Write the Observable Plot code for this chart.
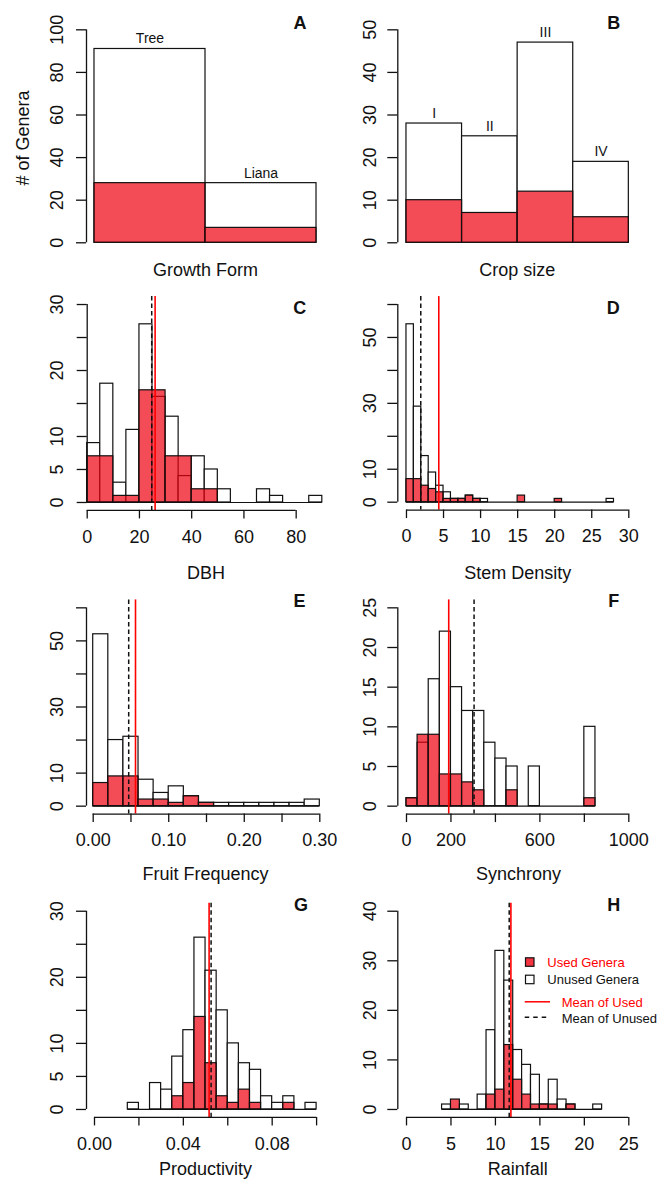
<!DOCTYPE html>
<html>
<head>
<meta charset="utf-8">
<script src="https://cdn.jsdelivr.net/npm/d3@7"></script>
<script src="https://cdn.jsdelivr.net/npm/@observablehq/plot@0.6"></script>
<style>
html, body { margin: 0; padding: 0; background: #fff; }
#root { position: relative; width: 668px; height: 1179px; overflow: hidden; }
.panel { position: absolute; width: 334px; }
.panel svg { overflow: visible; }
</style>
</head>
<body>
<div id="root"></div>
<script>
// ---------------- DATA ----------------
// A: growth form
const growthForms = ["Tree", "Liana"];
const growthAll = [91, 28];
const growthUsed = [28, 7];
const growthTicks = [0, 20, 40, 60, 80, 100];

// B: crop size
const cropSizes = ["I", "II", "III", "IV"];
const cropAll = [28, 25, 47, 19];
const cropUsed = [10, 7, 12, 6];
const cropTicks = [0, 10, 20, 30, 40, 50];

// C: DBH
const dbhEdges = [0, 5, 10, 15, 20, 25, 30, 35, 40, 45, 50, 55, 60, 65, 70, 75, 80, 85, 90];
const dbhUnused = [9, 18, 3, 11, 27, 16, 13, 4, 7, 5, 2, 0, 0, 2, 1, 0, 0, 1];
const dbhUsedEdges = [0, 10, 20, 30, 40, 50];
const dbhUsed = [7, 1, 17, 7, 2];
const dbhMeans = {unused: 24.7, used: 26.0};
const dbhXTicks = [0, 20, 40, 60, 80];
const dbhYTicks = [0, 5, 10, 15, 20, 25, 30];
const dbhYLabels = [0, 5, 10, 20, 30];

// D: stem density
const stemEdges = [0, 1, 2, 3, 4, 5, 6, 7, 8, 9, 10, 11, 12, 13, 14, 15, 16, 17, 18, 19, 20, 21, 22, 23, 24, 25, 26, 27, 28];
const stemUnused = [54, 29, 14, 9, 5, 3, 1, 1, 2, 1, 1, 0, 0, 0, 0, 0, 0, 0, 0, 0, 0, 0, 0, 0, 0, 0, 0, 1];
const stemUsed = [7, 7, 5, 4, 3, 1, 1, 1, 2, 1, 0, 0, 0, 0, 0, 2, 0, 0, 0, 0, 1, 0, 0, 0, 0, 0, 0, 0];
const stemMeans = {unused: 1.93, used: 4.36};
const stemXTicks = [0, 5, 10, 15, 20, 25, 30];
const stemYTicks = [0, 10, 20, 30, 40, 50, 60];
const stemYLabels = [0, 10, 30, 50];

// E: fruit frequency
const fruitEdges = [0, 0.02, 0.04, 0.06, 0.08, 0.10, 0.12, 0.14, 0.16, 0.18, 0.20, 0.22, 0.24, 0.26, 0.28, 0.30];
const fruitUnused = [52, 20, 21, 8, 4, 6, 3, 1, 1, 1, 1, 1, 1, 1, 2];
const fruitUsed = [7, 9, 9, 2, 2, 1, 3, 1, 0, 0, 0, 0, 0, 0, 0];
const fruitMeans = {unused: 0.047, used: 0.056};
const fruitXTicks = [0, 0.05, 0.10, 0.15, 0.20, 0.25, 0.30];
const fruitXLabels = [0, 0.10, 0.20, 0.30];
const fruitYTicks = [0, 10, 20, 30, 40, 50, 60];
const fruitYLabels = [0, 10, 30, 50];

// F: synchrony
const syncEdges = [0, 50, 100, 150, 200, 250, 300, 350, 400, 450, 500, 550, 600, 650, 700, 750, 800, 850];
const syncUnused = [1, 8, 16, 22, 15, 12, 12, 8, 6, 5, 0, 5, 0, 0, 0, 0, 10];
const syncUsed = [1, 9, 9, 4, 4, 3, 2, 0, 0, 2, 0, 0, 0, 0, 0, 0, 1];
const syncMeans = {unused: 304, used: 190};
const syncXTicks = [0, 200, 400, 600, 800, 1000];
const syncXLabels = [0, 200, 600, 1000];
const syncYTicks = [0, 5, 10, 15, 20, 25];

// G: productivity
const prodEdges = [0.015, 0.02, 0.025, 0.03, 0.035, 0.04, 0.045, 0.05, 0.055, 0.06, 0.065, 0.07, 0.075, 0.08, 0.085, 0.09, 0.095, 0.1];
const prodUnused = [1, 0, 4, 3, 8, 12, 26, 21, 15, 10, 7, 6, 2, 1, 2, 0, 1];
const prodUsed = [0, 0, 0, 0, 2, 4, 14, 7, 2, 1, 3, 1, 0, 0, 1, 0, 0];
const prodMeans = {unused: 0.0525, used: 0.0516};
const prodXTicks = [0, 0.02, 0.04, 0.06, 0.08, 0.10];
const prodXLabels = [0, 0.04, 0.08];
const prodYTicks = [0, 5, 10, 15, 20, 25, 30];
const prodYLabels = [0, 5, 10, 20, 30];

// H: rainfall
const rainEdges = [4, 5, 6, 7, 8, 9, 10, 11, 12, 13, 14, 15, 16, 17, 18, 19, 20, 21, 22];
const rainUnused = [1, 0, 1, 0, 3, 16, 32, 26, 12, 9, 7, 1, 6, 2, 1, 0, 0, 1];
const rainUsed = [0, 2, 0, 0, 0, 3, 4, 13, 6, 3, 1, 1, 1, 0, 1, 0, 0, 0];
const rainMeans = {unused: 11.55, used: 11.74};
const rainXTicks = [0, 5, 10, 15, 20, 25];
const rainYTicks = [0, 10, 20, 30, 40];

const panelLetters = ["A", "B", "C", "D", "E", "F", "G", "H"];
const axisTitles = ["Growth Form", "Crop size", "DBH", "Stem Density", "Fruit Frequency", "Synchrony", "Productivity", "Rainfall"];
const yTitle = "# of Genera";
const legendLabels = ["Used Genera", "Unused Genera", "Mean of Used", "Mean of Unused"];

// ---------------- STYLE / LAYOUT ----------------
const FONT = "'Liberation Sans', Arial, Helvetica, sans-serif";
const RED = "rgb(240,0,15)";
const INK = "#111";
const rows = [{top: 0, h: 280}, {top: 280, h: 300}, {top: 580, h: 300}, {top: 880, h: 299}];
const cols = [0, 334];

const fmt2 = d3.format(".2f");
const fmtInt = d => String(Math.round(d));
const inSet = list => v => list.some(l => Math.abs(l - v) < 1e-9);
const bins = (edges, counts) => counts.map((n, i) => ({x1: edges[i], x2: edges[i + 1], n}));

function yAxisMarks(p) {
  const show = inSet(p.yLabels || p.yTicks);
  return [
    Plot.ruleX([p.xDomain[0]], {y1: () => p.yTicks[0], y2: () => p.yTicks[p.yTicks.length - 1], stroke: INK, strokeWidth: 1.3}),
    Plot.axisY({ticks: p.yTicks, tickSize: 10, tickPadding: p.col === 0 ? 14 : 11.8, tickRotate: -90,
      tickFormat: d => show(d) ? fmtInt(d) : "", label: null, fontSize: 18, strokeWidth: 1.3})
  ];
}
function xAxisMarks(p) {
  const show = inSet(p.xLabels || p.xTicks);
  const f = p.xFormat || fmtInt;
  return [
    Plot.ruleY([p.yDomain[0]], {x1: () => p.xTicks[0], x2: () => p.xTicks[p.xTicks.length - 1], stroke: INK, strokeWidth: 1.3}),
    Plot.axisX({ticks: p.xTicks, tickSize: 8.5, tickPadding: 11, tickFormat: d => show(d) ? f(d) : "",
      label: null, fontSize: 18, strokeWidth: 1.3})
  ];
}
function textMarks(p, k) {
  const ox = cols[p.col], oy = rows[p.row].top, h = rows[p.row].h;
  const [lx, ly] = p.letterPos, [tx, ty] = p.titlePos;
  const marks = [
    Plot.text([panelLetters[k]], {frameAnchor: "top-left", dx: lx - ox - p.mL, dy: ly - oy - p.mT,
      lineAnchor: "bottom", textAnchor: "middle", fontSize: 18, fontWeight: "bold", fill: INK}),
    Plot.text([axisTitles[k]], {frameAnchor: "bottom-left", dx: tx - ox - p.mL, dy: ty - oy - (h - p.mB),
      lineAnchor: "bottom", textAnchor: "middle", fontSize: 18, fill: INK})
  ];
  return marks;
}
function basePlot(p, marks, xAxis) {
  const h = rows[p.row].h;
  return Plot.plot({
    width: 334, height: h,
    marginLeft: p.mL, marginRight: p.mR, marginTop: p.mT, marginBottom: p.mB,
    x: {domain: p.xDomain, axis: xAxis ? undefined : null},
    y: {domain: p.yDomain},
    style: {fontFamily: FONT, fontSize: "18px", background: "transparent", overflow: "visible", color: INK},
    marks
  });
}
function barPanel(p, k) {
  const data = p.cats.map((c, i) => ({cat: c, i, all: p.all[i], used: p.used[i]}));
  return basePlot(p, [
    Plot.rect(data, {x1: d => d.i, x2: d => d.i + 1, y1: () => 0, y2: "all", fill: "white", stroke: INK, strokeWidth: 1.2}),
    Plot.rect(data, {x1: d => d.i, x2: d => d.i + 1, y1: () => 0, y2: "used", fill: RED, fillOpacity: 0.7, stroke: INK, strokeWidth: 1.2}),
    Plot.text(data, {x: d => d.i + 0.5, y: "all", text: "cat", dy: -5.5, lineAnchor: "bottom", fontSize: 14, fill: INK}),
    ...yAxisMarks(p),
    ...textMarks(p, k),
    ...(p.yTitle ? [Plot.text([yTitle], {frameAnchor: "left", dx: p.yTitle[0] - p.mL, dy: p.yTitle[1] - (p.mT + (rows[p.row].h - p.mT - p.mB) / 2),
      rotate: -90, lineAnchor: "bottom", textAnchor: "middle", fontSize: 18, fill: INK})] : [])
  ], false);
}
function histPanel(p, k) {
  const white = bins(p.edges, p.unused).filter(d => d.n > 0);
  const red = bins(p.usedEdges || p.edges, p.used).filter(d => d.n > 0);
  return basePlot(p, [
    Plot.rect(white, {x1: "x1", x2: "x2", y1: () => 0, y2: "n", fill: "white", stroke: INK, strokeWidth: 1.2}),
    Plot.ruleY([0], {x1: () => p.edges[0], x2: () => p.edges[p.edges.length - 1], stroke: INK, strokeWidth: 1.2}),
    Plot.rect(red, {x1: "x1", x2: "x2", y1: () => 0, y2: "n", fill: RED, fillOpacity: 0.7, stroke: INK, strokeWidth: 1.2}),
    Plot.ruleX([p.means.unused], {stroke: INK, strokeWidth: 1.5, strokeDasharray: "4.5,3"}),
    Plot.ruleX([p.means.used], {stroke: "red", strokeWidth: 1.6}),
    ...yAxisMarks(p),
    ...xAxisMarks(p),
    ...textMarks(p, k)
  ], true);
}

const panels = [
  {type: "bar", col: 0, row: 0, mL: 86, mR: 10, mT: 20.8, mB: 29.2, xDomain: [-0.072, 2.072], yDomain: [-4, 104],
   cats: growthForms, all: growthAll, used: growthUsed, yTicks: growthTicks,
   letterPos: [299.5, 28.3], titlePos: [205, 275.5], yTitle: [28, 137.5]},
  {type: "bar", col: 1, row: 0, mL: 63.3, mR: 31, mT: 20.8, mB: 29.2, xDomain: [-0.156, 4.156], yDomain: [-2, 52],
   cats: cropSizes, all: cropAll, used: cropUsed, yTicks: cropTicks,
   letterPos: [613.3, 28.2], titlePos: [516.7, 275.5]},
  {type: "hist", col: 0, row: 1, mL: 86.7, mR: 12.2, mT: 16.1, mB: 70.1, xDomain: [0, 90], yDomain: [-1.2, 31.2],
   edges: dbhEdges, unused: dbhUnused, usedEdges: dbhUsedEdges, used: dbhUsed, means: dbhMeans,
   xTicks: dbhXTicks, yTicks: dbhYTicks, yLabels: dbhYLabels,
   letterPos: [299.3, 313.3], titlePos: [205.5, 578]},
  {type: "hist", col: 1, row: 1, mL: 63.3, mR: 39.7, mT: 16.1, mB: 70.4, xDomain: [-1.17, 30], yDomain: [-2.4, 62.4],
   edges: stemEdges, unused: stemUnused, used: stemUsed, means: stemMeans,
   xTicks: stemXTicks, yTicks: stemYTicks, yLabels: stemYLabels,
   letterPos: [612.8, 313.3], titlePos: [517.3, 578]},
  {type: "hist", col: 0, row: 2, mL: 86, mR: 14.7, mT: 19.4, mB: 66.4, xDomain: [-0.00887, 0.30], yDomain: [-2.4, 62.4],
   edges: fruitEdges, unused: fruitUnused, used: fruitUsed, means: fruitMeans,
   xTicks: fruitXTicks, xLabels: fruitXLabels, xFormat: fmt2, yTicks: fruitYTicks, yLabels: fruitYLabels,
   letterPos: [299, 606], titlePos: [205, 879.6]},
  {type: "hist", col: 1, row: 2, mL: 63.3, mR: 39.7, mT: 19.4, mB: 66.4, xDomain: [-39.1, 1000], yDomain: [-1, 26],
   edges: syncEdges, unused: syncUnused, used: syncUsed, means: syncMeans,
   xTicks: syncXTicks, xLabels: syncXLabels, yTicks: syncYTicks,
   letterPos: [613.3, 606], titlePos: [518, 879.6]},
  {type: "hist", col: 0, row: 3, mL: 86, mR: 17.9, mT: 22.8, mB: 62.1, xDomain: [-0.0036, 0.1], yDomain: [-1.2, 31.2],
   edges: prodEdges, unused: prodUnused, used: prodUsed, means: prodMeans,
   xTicks: prodXTicks, xLabels: prodXLabels, xFormat: fmt2, yTicks: prodYTicks, yLabels: prodYLabels,
   letterPos: [300.5, 910.7], titlePos: [205, 1174.6]},
  {type: "hist", col: 1, row: 3, mL: 63.3, mR: 39.7, mT: 22.8, mB: 62.1, xDomain: [-0.98, 25], yDomain: [-1.6, 41.6],
   edges: rainEdges, unused: rainUnused, used: rainUsed, means: rainMeans,
   xTicks: rainXTicks, yTicks: rainYTicks,
   letterPos: [613.3, 910.7], titlePos: [517.3, 1174.8]}
];

const root = document.getElementById("root");
panels.forEach((p, k) => {
  const div = document.createElement("div");
  div.className = "panel";
  div.style.left = cols[p.col] + "px";
  div.style.top = rows[p.row].top + "px";
  div.appendChild(p.type === "bar" ? barPanel(p, k) : histPanel(p, k));
  root.appendChild(div);
});

// legend (inside panel H)
const ns = "http://www.w3.org/2000/svg";
const leg = d3.select(root).append("svg")
  .attr("width", 668).attr("height", 1179)
  .style("position", "absolute").style("left", "0px").style("top", "0px")
  .style("overflow", "visible").style("pointer-events", "none")
  .attr("font-family", FONT).attr("font-size", 13);
leg.append("rect").attr("x", 525.5).attr("y", 957.8).attr("width", 8.5).attr("height", 8.5)
  .attr("fill", RED).attr("fill-opacity", 0.8).attr("stroke", INK).attr("stroke-width", 1.2);
leg.append("rect").attr("x", 525.5).attr("y", 975.2).attr("width", 8.5).attr("height", 8.5)
  .attr("fill", "white").attr("stroke", INK).attr("stroke-width", 1.2);
leg.append("line").attr("x1", 524.7).attr("x2", 550).attr("y1", 1001.8).attr("y2", 1001.8)
  .attr("stroke", "red").attr("stroke-width", 1.5);
leg.append("line").attr("x1", 524.7).attr("x2", 550).attr("y1", 1017.3).attr("y2", 1017.3)
  .attr("stroke", INK).attr("stroke-width", 1.5).attr("stroke-dasharray", "4.5,4");
const legPos = [[547.3, 967, "red"], [547.3, 984, INK], [561.7, 1007, "red"], [561.7, 1022.5, INK]];
legendLabels.forEach((t, i) => {
  leg.append("text").attr("x", legPos[i][0]).attr("y", legPos[i][1]).attr("fill", legPos[i][2]).text(t);
});
</script>
</body>
</html>
